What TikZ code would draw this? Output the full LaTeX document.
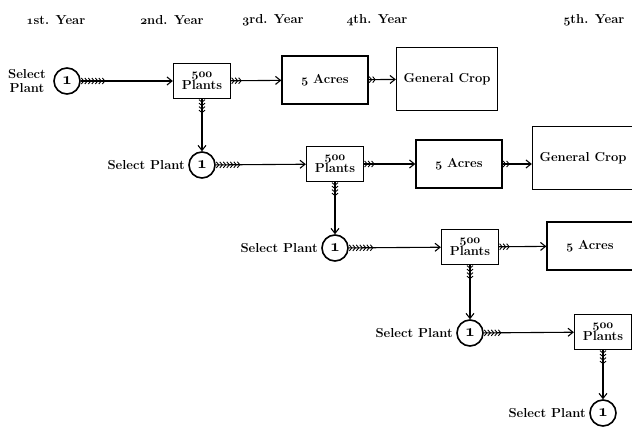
\documentclass[tikz,border=0pt]{standalone}
\usepackage{tikz}
\usetikzlibrary{arrows.meta}
\usetikzlibrary{decorations.markings}

\tikzset{
    lbl/.style = {font=\fontsize{13}{14}\selectfont\bfseries, inner sep=0pt},
    plantbox/.style = {draw, line width=1.3pt, inner sep=1pt, align=center, font=\fontsize{13}{14}\selectfont\bfseries},
    plants/.style = {plantbox, minimum width=57pt, minimum height=35pt},
    acres/.style = {plantbox, minimum width=86pt, minimum height=48pt},
    crop/.style = {plantbox, minimum width=101pt, minimum height=63pt},
    selcircle/.style = {draw, circle, line width=1.6pt, minimum size=26pt, inner sep=0pt, font=\fontsize{17}{17}\selectfont\bfseries},
    feathered/.style = {line width=1.1pt, -{Straight Barb[length=5pt,width=8pt]},
        postaction = {decorate, decoration = {markings,
            mark = between positions 3pt and #1 step 3.5pt with {\draw[-, line width=0.9pt] (-2.5pt,3pt) -- (0,0) -- (-2.5pt,-3pt);}}}},
    feathered/.default = 15pt
}

% old style figures in bold
\newcommand{\osn}[1]{{\usefont{OML}{cmm}{b}{it}#1}}
\newcommand{\fivehundred}{{\fontsize{12}{12}\selectfont\osn{500}}\\[-2pt]Plants}

\begin{document}
\begin{tikzpicture}[x=1pt, y=-1pt]
    \useasboundingbox (0,0) rectangle (632,426);

    % years
    \node[lbl] (yr1) at (56,20) {\osn{1}st. Year};
    \node[lbl] (yr2) at (172,20) {\osn{2}nd. Year};
    \node[lbl] (yr3) at (273,20) {\osn{3}rd. Year};
    \node[lbl] (yr4) at (377,20) {\osn{4}th. Year};
    \node[lbl] (yr5) at (594,20) {\osn{5}th. Year};

    % first row
    \node[lbl, align=center] (sp1) at (27,81) {Select\\Plant};
    \node[selcircle] (c1) at (67,81) {\osn{1}};
    \node[plants] (p1) at (202,81) {\fivehundred};
    \node[acres] (a1) at (325,80) {\osn{5} Acres};
    \node[crop] (g1) at (447,79) {General Crop};
    \draw[feathered=24pt] (c1) -- (p1);
    \draw[feathered=12pt] (p1) -- (a1);
    \draw[feathered=9pt] (a1) -- (g1);

    % second row
    \node[selcircle] (c2) at (202,165) {\osn{1}};
    \node[lbl, anchor=east] (sp2) at (185,165) {Select Plant};
    \node[plants] (p2) at (335,164) {\fivehundred};
    \node[acres] (a2) at (459,164) {\osn{5} Acres};
    \node[crop] (g2) at (583,158) {General Crop};
    \draw[feathered=15pt] (p1) -- (c2);
    \draw[feathered=24pt] (c2) -- (p2);
    \draw[feathered=12pt] (p2) -- (a2);
    \draw[feathered=9pt] (a2) -- (g2.west |- a2);

    % third row
    \node[selcircle] (c3) at (335,248) {\osn{1}};
    \node[lbl, anchor=east] (sp3) at (318,248) {Select Plant};
    \node[plants] (p3) at (470,247) {\fivehundred};
    \node[acres] (a3) at (590,246) {\osn{5} Acres};
    \draw[feathered=15pt] (p2) -- (c3);
    \draw[feathered=24pt] (c3) -- (p3);
    \draw[feathered=12pt] (p3) -- (a3);

    % fourth row
    \node[selcircle] (c4) at (470,333) {\osn{1}};
    \node[lbl, anchor=east] (sp4) at (453,333) {Select Plant};
    \node[plants] (p4) at (603,332) {\fivehundred};
    \draw[feathered=15pt] (p3) -- (c4);
    \draw[feathered=20pt] (c4) -- (p4);

    % fifth row
    \node[selcircle] (c5) at (603,413) {\osn{1}};
    \node[lbl, anchor=east] (sp5) at (586,413) {Select Plant};
    \draw[feathered=15pt] (p4) -- (c5);
\end{tikzpicture}
\end{document}
